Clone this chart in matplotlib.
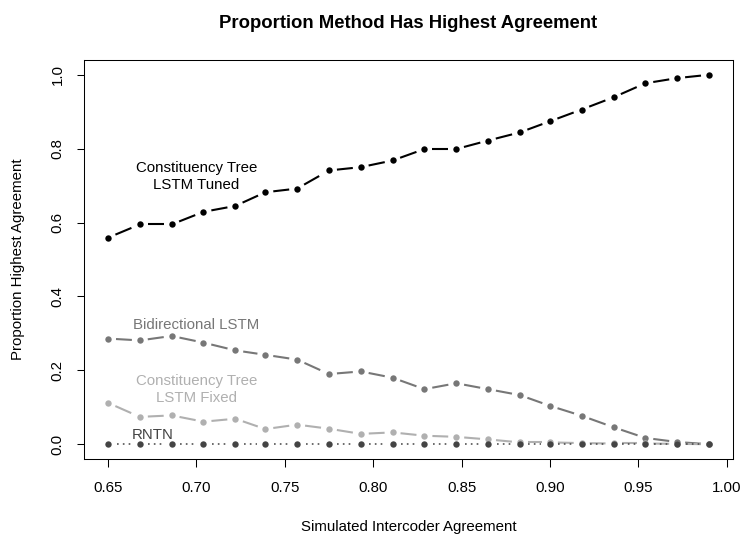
import matplotlib
matplotlib.use("Agg")
import matplotlib.pyplot as plt
import numpy as np

plt.rcParams["font.family"] = ["Liberation Sans", "DejaVu Sans"]
plt.rcParams["lines.scale_dashes"] = False

# simulated intercoder agreement levels
agreement = [0.650, 0.668, 0.686, 0.704, 0.722, 0.739, 0.757, 0.775, 0.793, 0.811,
             0.829, 0.847, 0.865, 0.883, 0.900, 0.918, 0.936, 0.954, 0.972, 0.990]

# proportion of runs where each method had the highest agreement
tuned = [0.559, 0.595, 0.595, 0.629, 0.645, 0.682, 0.692, 0.741, 0.750, 0.768,
         0.799, 0.799, 0.822, 0.844, 0.874, 0.906, 0.939, 0.977, 0.991, 1.000]
bidir = [0.286, 0.281, 0.293, 0.275, 0.254, 0.242, 0.229, 0.190, 0.197, 0.180,
         0.149, 0.165, 0.149, 0.133, 0.104, 0.077, 0.046, 0.017, 0.006, 0.000]
fixed = [0.112, 0.074, 0.078, 0.061, 0.069, 0.041, 0.053, 0.042, 0.028, 0.032,
         0.023, 0.020, 0.013, 0.005, 0.005, 0.003, 0.002, 0.002, 0.001, 0.000]
rntn = [0.0, 0.0, 0.0, 0.0, 0.0, 0.0, 0.0, 0.0, 0.0, 0.0,
        0.0, 0.0, 0.0, 0.0, 0.0, 0.0, 0.0, 0.0, 0.0, 0.0]

x_ticks = [0.65, 0.70, 0.75, 0.80, 0.85, 0.90, 0.95, 1.00]
y_ticks = [0.0, 0.2, 0.4, 0.6, 0.8, 1.0]

W, H = 744, 536
fig = plt.figure(figsize=(W / 100, H / 100), dpi=100)
left, right, top, bottom = 84, 733, 60, 459
ax = fig.add_axes([left / W, 1 - bottom / H, (right - left) / W, (bottom - top) / H])
ax.set_xlim(0.6364, 1.0036)
ax.set_ylim(-0.04, 1.04)


# R style type="b": lines broken around the points
def draw_b(xs, ys, color, dashes, lw, gap=8.0, ms=4.6):
    pts = ax.transData.transform(np.column_stack([xs, ys]))
    inv = ax.transData.inverted()
    for p0, p1 in zip(pts[:-1], pts[1:]):
        d = p1 - p0
        L = np.hypot(*d)
        if L <= 2 * gap:
            continue
        u = d / L
        seg = inv.transform(np.array([p0 + u * gap, p1 - u * gap]))
        ax.plot(seg[:, 0], seg[:, 1], color=color, lw=lw,
                linestyle=(0, dashes), solid_capstyle="butt", dash_capstyle="butt")
    ax.plot(xs, ys, "o", color=color, ms=ms, mec=color, mew=0)


draw_b(agreement, tuned, "black", (12.5, 9), 1.5)
draw_b(agreement, bidir, "#777777", (12.5, 9), 1.5)
draw_b(agreement, fixed, "#b0b0b0", (12.5, 9), 1.5)
draw_b(agreement, rntn, "#444444", (1.2, 3.0), 1.1, gap=8.5)

fs = 10.8
ax.text(0.70, 0.725, "Constituency Tree\nLSTM Tuned", color="black", fontsize=fs,
        ha="center", va="center", linespacing=1.3)
ax.text(0.70, 0.322, "Bidirectional LSTM", color="#777777", fontsize=fs,
        ha="center", va="center")
ax.text(0.70, 0.149, "Constituency Tree\nLSTM Fixed", color="#b0b0b0", fontsize=fs,
        ha="center", va="center", linespacing=1.3)
ax.text(0.675, 0.024, "RNTN", color="#444444", fontsize=fs, ha="center", va="center")

ax.set_xticks(x_ticks)
ax.set_xticklabels([f"{v:.2f}" for v in x_ticks])
ax.set_yticks(y_ticks)
ax.set_yticklabels([f"{v:.1f}" for v in y_ticks], rotation=90, va="center")
ax.tick_params(axis="both", length=5.4, width=0.75, labelsize=fs, color="black")
ax.tick_params(axis="x", pad=10.5)
ax.tick_params(axis="y", pad=8.6)
for s in ax.spines.values():
    s.set_linewidth(0.75)

ax.set_xlabel("Simulated Intercoder Agreement", fontsize=fs, va="center")
ax.xaxis.set_label_coords(0.5, (bottom - 527) / (bottom - top))
ax.set_ylabel("Proportion Highest Agreement", fontsize=fs, va="center")
ax.yaxis.set_label_coords((18 - left) / (right - left), 0.5)

ax.set_title("Proportion Method Has Highest Agreement", fontsize=13.3,
             fontweight="bold", pad=23.4)

fig.savefig("out.png", dpi=100)
